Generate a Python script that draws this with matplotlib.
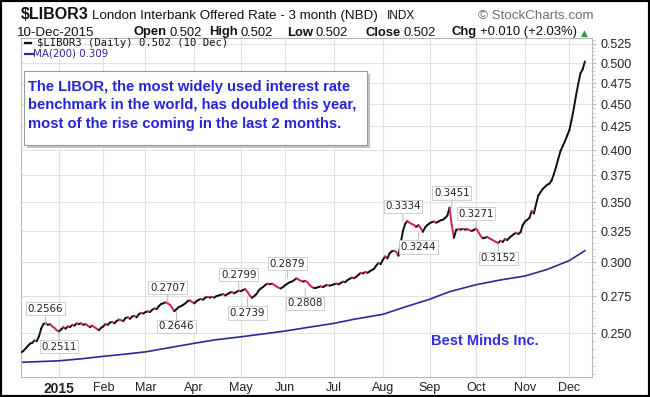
import numpy as np
import pandas as pd
import matplotlib
matplotlib.use("Agg")
import matplotlib.pyplot as plt
from matplotlib.collections import LineCollection
from matplotlib.patches import Rectangle
from matplotlib.ticker import FixedLocator, NullFormatter

plt.rcParams['font.family'] = ['Liberation Sans', 'DejaVu Sans']

# ---------------- data ----------------
start_date = "2014-12-08"
end_date = "2015-12-10"
holidays = ["2014-12-25", "2015-01-01", "2015-01-19", "2015-02-16", "2015-04-03",
            "2015-05-25", "2015-07-03", "2015-09-07", "2015-11-26"]

libor = [
    0.2380, 0.2390, 0.2405, 0.2420, 0.2435, 0.2440, 0.2455, 0.2450, 0.2480, 0.2530,
    0.2560, 0.2566, 0.2555, 0.2560, 0.2545, 0.2535, 0.2520, 0.2511, 0.2525, 0.2540,
    0.2530, 0.2545, 0.2540, 0.2555, 0.2550, 0.2565, 0.2560, 0.2565, 0.2555, 0.2560,
    0.2550, 0.2540, 0.2550, 0.2540, 0.2530, 0.2520, 0.2535, 0.2545, 0.2560, 0.2555,
    0.2570, 0.2575, 0.2565, 0.2580, 0.2590, 0.2585, 0.2580, 0.2600, 0.2605, 0.2595,
    0.2610, 0.2615, 0.2605, 0.2625, 0.2635, 0.2630, 0.2640, 0.2645, 0.2640, 0.2655,
    0.2665, 0.2660, 0.2680, 0.2695, 0.2700, 0.2707, 0.2700, 0.2690, 0.2670, 0.2646,
    0.2660, 0.2675, 0.2680, 0.2690, 0.2700, 0.2715, 0.2720, 0.2710, 0.2700, 0.2715,
    0.2725, 0.2730, 0.2725, 0.2740, 0.2745, 0.2740, 0.2745, 0.2740, 0.2750, 0.2755,
    0.2760, 0.2765, 0.2755, 0.2765, 0.2775, 0.2780, 0.2770, 0.2780, 0.2790, 0.2785,
    0.2795, 0.2799, 0.2780, 0.2755, 0.2739, 0.2750, 0.2765, 0.2790, 0.2805, 0.2815,
    0.2830, 0.2840, 0.2835, 0.2840, 0.2830, 0.2820, 0.2810, 0.2805, 0.2815, 0.2830,
    0.2840, 0.2850, 0.2855, 0.2865, 0.2879, 0.2870, 0.2860, 0.2855, 0.2860, 0.2850,
    0.2830, 0.2815, 0.2808, 0.2810, 0.2815, 0.2820, 0.2815, 0.2825, 0.2830, 0.2825,
    0.2830, 0.2835, 0.2840, 0.2835, 0.2845, 0.2855, 0.2850, 0.2865, 0.2875, 0.2885,
    0.2880, 0.2890, 0.2905, 0.2920, 0.2915, 0.2925, 0.2920, 0.2930, 0.2940, 0.2950,
    0.2975, 0.2995, 0.2985, 0.3020, 0.3045, 0.3030, 0.3070, 0.3085, 0.3090, 0.3080,
    0.3050, 0.3150, 0.3250, 0.3310, 0.3334, 0.3320, 0.3310, 0.3300, 0.3285, 0.3300,
    0.3275, 0.3244, 0.3280, 0.3300, 0.3315, 0.3325, 0.3330, 0.3320, 0.3330, 0.3340,
    0.3345, 0.3360, 0.3380, 0.3451, 0.3300, 0.3195, 0.3260, 0.3265, 0.3262, 0.3268,
    0.3262, 0.3265, 0.3258, 0.3250, 0.3260, 0.3271, 0.3240, 0.3210, 0.3190, 0.3195,
    0.3200, 0.3190, 0.3180, 0.3170, 0.3160, 0.3152, 0.3170, 0.3160, 0.3185, 0.3175,
    0.3195, 0.3210, 0.3225, 0.3235, 0.3225, 0.3240, 0.3300, 0.3330, 0.3345, 0.3360,
    0.3420, 0.3400, 0.3480, 0.3560, 0.3590, 0.3620, 0.3640, 0.3660, 0.3670, 0.3700,
    0.3760, 0.3830, 0.3910, 0.3990, 0.4040, 0.4090, 0.4150, 0.4210, 0.4320, 0.4450,
    0.4600, 0.4740, 0.4870, 0.4920, 0.5020,
]

ma_dates = ["2014-12-08", "2015-01-02", "2015-01-16", "2015-02-02", "2015-02-13",
            "2015-03-02", "2015-03-16", "2015-04-01", "2015-04-15", "2015-05-01",
            "2015-05-15", "2015-06-01", "2015-06-15", "2015-07-01", "2015-07-15",
            "2015-08-03", "2015-08-17", "2015-09-01", "2015-09-15", "2015-10-01",
            "2015-10-15", "2015-11-02", "2015-11-16", "2015-12-01", "2015-12-10"]
ma200 = [0.2321, 0.2330, 0.2342, 0.2357, 0.2369, 0.2384, 0.2408, 0.2437, 0.2458,
         0.2478, 0.2496, 0.2515, 0.2538, 0.2565, 0.2592, 0.2625, 0.2675, 0.2728,
         0.2782, 0.2832, 0.2864, 0.2896, 0.2945, 0.3013, 0.3090]

note_dates = ["2014-12-23", "2015-01-02", "2015-03-16", "2015-03-20", "2015-04-30",
              "2015-05-06", "2015-06-02", "2015-06-12", "2015-08-14", "2015-08-25",
              "2015-09-16", "2015-10-01", "2015-10-15"]
note_values = [0.2566, 0.2511, 0.2707, 0.2646, 0.2799, 0.2739, 0.2879, 0.2808,
               0.3334, 0.3244, 0.3451, 0.3271, 0.3152]
note_side = ["up", "down", "up", "down", "up", "down", "up", "down",
             "up", "down", "up", "up", "down"]

month_labels = ["2015", "Feb", "Mar", "Apr", "May", "Jun", "Jul", "Aug",
                "Sep", "Oct", "Nov", "Dec"]
y_ticks = [0.250, 0.275, 0.300, 0.325, 0.350, 0.375, 0.400, 0.425, 0.450,
           0.475, 0.500, 0.525]

# ---------------- trading-day axis ----------------
days = pd.bdate_range(start_date, end_date, freq="C", holidays=holidays)
n = min(len(days), len(libor))
days = days[:n]
vals = np.array(libor[:n])
xs = np.arange(n)

def day_index(d):
    return int(days.searchsorted(pd.Timestamp(d)))

month_pos = []
for m in range(1, 13):
    sel = np.where((days.year == 2015) & (days.month == m))[0]
    month_pos.append(sel[0])

# ---------------- figure ----------------
W, H = 650, 397
fig = plt.figure(figsize=(6.5, 3.97), dpi=100)
fig.patch.set_facecolor("white")
ax = fig.add_axes([20.5 / W, 1 - 376.7 / H, (592 - 20.5) / W, (376.7 - 37.5) / H])
ax.set_yscale("log")
ax.set_ylim(0.2237, 0.5338)
ax.set_xlim(-0.3, 257.2)

# grid
for yv in y_ticks:
    ax.axhline(yv, color="#e1e1e1", lw=0.8, zorder=0)
for mp in month_pos:
    ax.axvline(mp, color="#e1e1e1", lw=0.8, zorder=0)

# price line, black up / red down
pts = np.column_stack([xs, vals])
segs = np.stack([pts[:-1], pts[1:]], axis=1)
cols = ["#111111" if vals[i + 1] >= vals[i] else "#d42352" for i in range(n - 1)]
lc = LineCollection(segs, colors=cols, linewidths=1.4, capstyle="round", zorder=3)
ax.add_collection(lc)

# MA(200)
ma_x = [day_index(d) for d in ma_dates]
ax.plot(ma_x, ma200, color="#2a2a96", lw=1.2, zorder=2)

# annotations
for d, v, s in zip(note_dates, note_values, note_side):
    xi = day_index(d)
    dy = 10.5 if s == "up" else -11
    ax.annotate(f"{v:.4f}", xy=(xi, v), xytext=(0, dy), textcoords="offset points",
                ha="center", va="center", fontsize=7.4, family="DejaVu Sans",
                color="#222222", zorder=5,
                bbox=dict(boxstyle="square,pad=0.15", fc="white", ec="#c8c8c8", lw=0.6),
                arrowprops=dict(arrowstyle="-", color="#bdbdbd", lw=0.7,
                                shrinkA=0, shrinkB=0))

# axes styling
for sp in ax.spines.values():
    sp.set_color("#b8b8b8")
    sp.set_linewidth(0.8)
ax.yaxis.tick_right()
ax.set_yticks(y_ticks)
ax.set_yticklabels([f"{t:.3f}" for t in y_ticks])
ax.yaxis.set_minor_locator(FixedLocator(np.arange(0.225, 0.535, 0.005)))
ax.yaxis.set_minor_formatter(NullFormatter())
ax.tick_params(axis="y", which="major", length=3, color="#b8b8b8", pad=3,
               labelsize=9, labelcolor="#222222")
ax.tick_params(axis="y", which="minor", length=2, color="#c8c8c8")
ax.set_xticks(month_pos)
ax.set_xticklabels(month_labels)
ax.tick_params(axis="x", length=0, pad=4, labelsize=9, labelcolor="#222222")
ax.get_xticklabels()[0].set_fontweight("bold")
ax.get_xticklabels()[0].set_fontsize(10)

# watermark
ax.text(0.813, 0.105, "Best Minds Inc.", transform=ax.transAxes, ha="center",
        va="center", fontsize=10.5, fontweight="bold", color="#2f2fe0")

# ---------------- header ----------------
def fx(px):
    return px / W

def fy(py):
    return 1 - py / H

fig.text(fx(21), fy(19.3), r"\$LIBOR3", fontsize=11.5, fontweight="bold",
         color="#111111", va="baseline")
fig.text(fx(92), fy(19.3), "London Interbank Offered Rate - 3 month (NBD)",
         fontsize=9.6, color="#111111", va="baseline")
fig.text(fx(387), fy(19.3), "INDX", fontsize=8.5, color="#111111", va="baseline")
fig.text(fx(594), fy(19.3), "© StockCharts.com", fontsize=9.6, color="#6e6e6e",
         ha="right", va="baseline")
fig.text(fx(17), fy(35.5), "10-Dec-2015", fontsize=9.6, color="#111111",
         va="baseline")

fig.canvas.draw()
r = fig.canvas.get_renderer()
labels_px = [("Open", 133), ("High", 209), ("Low", 287), ("Close", 365), ("Chg", 452)]
values_txt = ["0.502", "0.502", "0.502", "0.502", "+0.010 (+2.03%)"]
end_px = 0
for (lab, px), vt in zip(labels_px, values_txt):
    t = fig.text(fx(px), fy(35.5), lab, fontsize=9.4, fontweight="bold",
                 color="#111111", va="baseline")
    bb = t.get_window_extent(renderer=r)
    t2 = fig.text(fx(bb.x1 + 3), fy(35.5), vt, fontsize=9.4, color="#111111",
                  va="baseline")
    end_px = t2.get_window_extent(renderer=r).x1
fig.text(fx(end_px + 4), fy(35.5), "▲", fontsize=6.5, color="#2e9e3e",
         va="baseline", family="DejaVu Sans")

# legend
fig.add_artist(plt.Line2D([fx(25), fx(31.5)], [fy(43), fy(43)], color="#111111",
                          lw=1.6, transform=fig.transFigure))
fig.text(fx(37), fy(43), r"\$LIBOR3 (Daily) 0.502 (10 Dec)", fontsize=7.6,
         family="DejaVu Sans Mono", color="#111111", va="center")
fig.add_artist(plt.Line2D([fx(25), fx(32.5)], [fy(53.5), fy(53.5)], color="#2a2a96",
                          lw=1.6, transform=fig.transFigure))
fig.text(fx(33), fy(53.5), "MA(200) 0.309", fontsize=7.4, family="DejaVu Sans",
         color="#2a2a96", va="center")

# comment box with shadow
bx0, by0, bx1, by1 = 24, 70.7, 367, 145
fig.add_artist(Rectangle((fx(bx0 + 3), fy(by1 + 3)), (bx1 - bx0) / W, (by1 - by0) / H,
                         transform=fig.transFigure, fc="#c4c4c4", ec="none"))
fig.add_artist(Rectangle((fx(bx0), fy(by1)), (bx1 - bx0) / W, (by1 - by0) / H,
                         transform=fig.transFigure, fc="white", ec="#9a9a9a", lw=0.8))
note = ("The LIBOR, the most widely used interest rate\n"
        "benchmark in the world, has doubled this year,\n"
        "most of the rise coming in the last 2 months.")
fig.text(fx(28.5), fy(105.5), note, fontsize=10.6, fontweight="bold",
         color="#2424d6", va="center", ha="left", linespacing=1.45)

# outer border
fig.add_artist(Rectangle((0, 0), 1, 1, transform=fig.transFigure, fill=False,
                         ec="black", lw=3))

fig.savefig("out.png", dpi=100)
